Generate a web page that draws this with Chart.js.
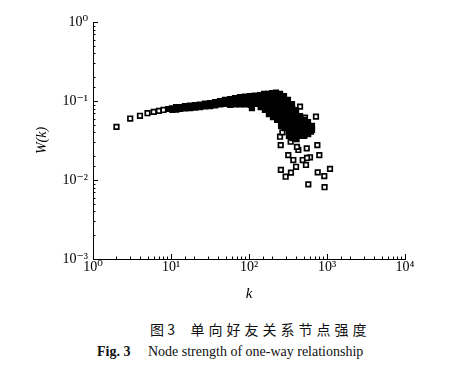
<!DOCTYPE html>
<html>
<head>
<meta charset="utf-8">
<script src="https://cdn.jsdelivr.net/npm/chart.js@4/dist/chart.umd.min.js"></script>
<style>
  html, body { margin: 0; padding: 0; background: #fff; }
  #wrap { position: relative; width: 450px; height: 381px; overflow: hidden; }
  #plot { position: absolute; left: 0; top: 0; width: 450px; height: 310px; }
  .cap1 { position: absolute; left: 150px; top: 319px; font-family: "Noto Sans CJK SC", sans-serif; font-size: 14px; color: #111; white-space: nowrap; }
  .cap1 .zh { letter-spacing: 4px; }
  .cap2 { position: absolute; left: 97px; top: 344px; font-family: "Liberation Serif", "DejaVu Serif", serif; font-size: 14px; color: #111; white-space: nowrap; }
</style>
</head>
<body>
<div id="wrap">
  <div id="plot"><canvas id="c" width="450" height="310"></canvas></div>
  <div class="cap1">图&nbsp;3&nbsp;&nbsp;&nbsp;&nbsp;&nbsp;<span class="zh">单向好友关系节点强度</span></div>
  <div class="cap2"><b>Fig. 3</b>&nbsp;&nbsp;&nbsp;&nbsp;&nbsp;Node strength of one-way relationship</div>
</div>
<script>
// ---- data (k = degree, W(k) = node strength) ----
// isolated (hollow) markers
const kSparse = [2, 3, 4, 5, 6, 7, 8,
  451, 522, 722, 624, 250, 255, 342, 429, 550, 752, 797, 605, 488, 538, 401,
  319, 370, 256, 295, 345, 760, 923, 1092, 576, 930, 470, 554, 268, 412];
const wSparse = [0.047, 0.060, 0.065, 0.070, 0.073, 0.075, 0.077,
  0.0847, 0.0615, 0.0633, 0.0409, 0.0353, 0.0277, 0.0305, 0.0240, 0.0252, 0.0277, 0.0207, 0.0194, 0.0179, 0.0155, 0.0147,
  0.0207, 0.0179, 0.0134, 0.0110, 0.0124, 0.0125, 0.0112, 0.0138, 0.0088, 0.0081, 0.0375, 0.0190, 0.0400, 0.0262];

// densely overlapping markers (appear as a solid black band)
const kDense = [9.2, 10.3, 10.4, 11.6, 11.7, 13.0, 13.1, 15.1, 15.2, 17.5, 17.6, 20.3, 20.4,
  23.5, 23.6, 27.3, 27.4, 31.6, 31.8, 36.7, 36.9, 42.5, 42.7, 49.2, 49.5,
  57.1, 57.3, 57.5, 66.1, 66.4, 66.7, 76.7, 77.0, 77.3, 88.9, 89.3, 89.7,
  103, 104, 105, 109, 119, 120, 121,
  138, 139, 140, 141,
  156, 157, 158, 159, 160,
  175, 176, 177, 178, 179, 180,
  197, 198, 199, 200, 201, 202, 203,
  222, 223, 224, 225, 226, 227, 228, 229,
  250, 251, 252, 253, 254, 255, 256, 257, 258,
  281, 282, 283, 284, 285, 286, 287, 288, 289,
  316, 317, 318, 319, 320, 321, 322, 323, 324, 325,
  356, 357, 358, 359, 360, 361, 362, 363, 364,
  400, 401, 402, 403, 404, 405, 406, 407,
  451, 452, 453, 454, 455, 456,
  507, 508, 509, 510, 511,
  571, 572, 573, 574,
  642, 643];
const wDense = [0.0792, 0.0804, 0.0769, 0.0839, 0.0780, 0.0839, 0.0792, 0.0864, 0.0804, 0.0877, 0.0815, 0.0890, 0.0827,
  0.0903, 0.0839, 0.0930, 0.0852, 0.0943, 0.0864, 0.0971, 0.0877, 0.1000, 0.0903, 0.1030, 0.0916,
  0.1060, 0.0930, 0.0890, 0.1091, 0.0971, 0.0903, 0.1123, 0.1000, 0.0903, 0.1140, 0.1015, 0.0903,
  0.1157, 0.1030, 0.0890, 0.0815, 0.1174, 0.1045, 0.0916,
  0.1191, 0.1060, 0.0943, 0.0839,
  0.1227, 0.1091, 0.0971, 0.0864, 0.0769,
  0.1227, 0.1091, 0.0971, 0.0864, 0.0769, 0.0684,
  0.1263, 0.1123, 0.1000, 0.0890, 0.0792, 0.0705, 0.0627,
  0.1281, 0.1157, 0.1030, 0.0916, 0.0815, 0.0726, 0.0646, 0.0575,
  0.1227, 0.1091, 0.0971, 0.0864, 0.0769, 0.0684, 0.0609, 0.0542, 0.0483,
  0.1157, 0.1030, 0.0916, 0.0815, 0.0726, 0.0646, 0.0575, 0.0512, 0.0455,
  0.1030, 0.0916, 0.0815, 0.0726, 0.0646, 0.0575, 0.0512, 0.0455, 0.0405, 0.0361,
  0.0916, 0.0815, 0.0726, 0.0646, 0.0575, 0.0512, 0.0455, 0.0405, 0.0340,
  0.0769, 0.0684, 0.0609, 0.0542, 0.0483, 0.0430, 0.0382, 0.0330,
  0.0646, 0.0575, 0.0512, 0.0455, 0.0405, 0.0361,
  0.0575, 0.0512, 0.0455, 0.0405, 0.0361,
  0.0542, 0.0483, 0.0430, 0.0382,
  0.0483, 0.0430];

// axis tick labels (decades only)
const xTickLabels = ['10⁰', '10¹', '10²', '10³', '10⁴'];
const yTickLabels = ['10⁻³', '10⁻²', '10⁻¹', '10⁰'];
const xTitle = 'k';
const yTitle = 'W(k)';

// ---- build chart ----
const toPoints = (ks, ws) => ks.map((k, i) => ({ x: k, y: ws[i] }));
const isDecade = v => Math.abs(Math.log10(v) - Math.round(Math.log10(v))) < 1e-9;
const SERIF = "'Liberation Serif', 'DejaVu Serif', serif";

const inwardTicks = {
  id: 'inwardTicks',
  afterDatasetsDraw(chart) {
    const { ctx, chartArea: a, scales: { x, y } } = chart;
    ctx.save();
    ctx.strokeStyle = '#000';
    ctx.lineWidth = 1;
    x.ticks.forEach(t => {
      const p = Math.round(x.getPixelForValue(t.value)) + 0.5;
      const len = isDecade(t.value) ? 5 : 2.5;
      ctx.beginPath(); ctx.moveTo(p, a.bottom); ctx.lineTo(p, a.bottom - len); ctx.stroke();
    });
    y.ticks.forEach(t => {
      const p = Math.round(y.getPixelForValue(t.value)) + 0.5;
      const len = isDecade(t.value) ? 5 : 2.5;
      ctx.beginPath(); ctx.moveTo(a.left, p); ctx.lineTo(a.left + len, p); ctx.stroke();
    });
    ctx.restore();
  }
};

new Chart(document.getElementById('c'), {
  type: 'scatter',
  data: {
    datasets: [
      {
        label: 'dense',
        data: toPoints(kDense, wDense),
        pointStyle: 'rect',
        pointRadius: 3.2,
        borderWidth: 1.7,
        borderColor: '#000',
        backgroundColor: '#000'
      },
      {
        label: 'sparse',
        data: toPoints(kSparse, wSparse),
        pointStyle: 'rect',
        pointRadius: 3.2,
        borderWidth: 1.7,
        borderColor: '#000',
        backgroundColor: '#fff'
      }
    ]
  },
  options: {
    responsive: false,
    animation: false,
    events: [],
    layout: { padding: { left: 0, right: 45, top: 22, bottom: 0 } },
    plugins: { legend: { display: false }, tooltip: { enabled: false } },
    scales: {
      x: {
        type: 'logarithmic',
        min: 1, max: 10000,
        afterFit: s => { s.height = 51; },
        border: { display: true, color: '#000', width: 1 },
        grid: { display: true, drawOnChartArea: false, drawTicks: false },
        ticks: {
          autoSkip: false, maxRotation: 0, padding: 0,
          color: '#000',
          font: { family: SERIF, size: 14 },
          callback: v => isDecade(v) ? xTickLabels[Math.round(Math.log10(v))] : ''
        },
        title: {
          display: true, text: xTitle, color: '#000',
          font: { family: SERIF, size: 15, style: 'italic' },
          padding: { top: 0, bottom: 7 }
        }
      },
      y: {
        type: 'logarithmic',
        min: 0.001, max: 1,
        afterFit: s => { s.width = 93; },
        border: { display: true, color: '#000', width: 1 },
        grid: { display: true, drawOnChartArea: false, drawTicks: false },
        ticks: {
          autoSkip: false, padding: 5,
          color: '#000',
          font: { family: SERIF, size: 14 },
          callback: v => isDecade(v) ? yTickLabels[Math.round(Math.log10(v)) + 3] : ''
        },
        title: {
          display: true, text: yTitle, color: '#000',
          font: { family: SERIF, size: 14, style: 'italic' },
          padding: { top: 34, bottom: 0 }
        }
      }
    }
  },
  plugins: [inwardTicks]
});
</script>
</body>
</html>
